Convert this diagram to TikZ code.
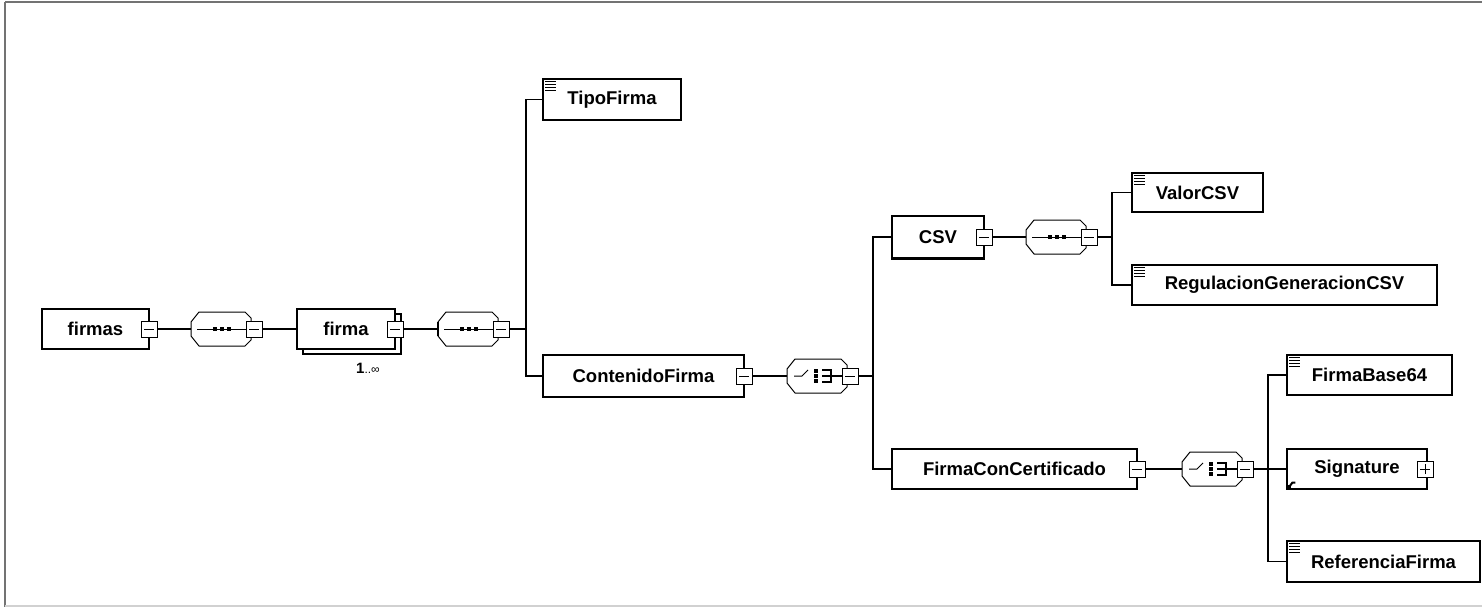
\documentclass[tikz,border=0pt]{standalone}
\usepackage{fontspec}
\setmainfont{Liberation Sans}
\begin{document}
\tikzset{
  elem/.style={draw=black, line width=1.2pt, fill=white, inner sep=0pt,
    font=\fontsize{18.5}{20}\selectfont\bfseries},
  btn/.style={draw=black, line width=1pt, fill=white, minimum size=16pt, inner sep=0pt},
  conn/.style={draw=black, line width=1.1pt},
  thickconn/.style={draw=black, line width=2pt},
  comp/.style={draw=black, line width=1pt, fill=white},
  framegray/.style={draw=black!55, line width=2pt},
  framelight/.style={draw=black!18, line width=1.5pt},
  mult/.style={inner sep=0pt, font=\fontsize{15}{16}\selectfont\bfseries},
}
\newcommand\minusbtn[3]{%
  \node[btn] (#1) at (#2,#3) {};
  \draw[line width=1pt] ([xshift=-5pt]#1.center) -- ([xshift=5pt]#1.center);}
\newcommand\plusbtn[3]{%
  \node[btn] (#1) at (#2,#3) {};
  \draw[line width=1pt] ([xshift=-5pt]#1.center) -- ([xshift=5pt]#1.center)
    ([yshift=-5pt]#1.center) -- ([yshift=5pt]#1.center);}
\newcommand\octo[2]{%
  \path[comp] (#1,{#2-7}) -- ({#1+8},{#2-17}) -- ({#1+54},{#2-17}) -- ({#1+60},{#2-11})
    -- ({#1+60},{#2+11}) -- ({#1+54},{#2+17}) -- ({#1+8},{#2+17}) -- (#1,{#2+7}) -- cycle;}
\newcommand\seqcomp[3]{% name, left x, mid y
  \octo{#2}{#3}
  \coordinate (#1) at (#2,#3);
  \draw[line width=1pt] ({#2+6},#3) -- ({#2+56},#3);
  \foreach \d in {22,29,36} \fill ({#2+\d},{#3-2}) rectangle ++(4,4);
  \minusbtn{#1-b}{#2+63}{#3}}
\newcommand\chocomp[3]{% name, left x, mid y
  \octo{#2}{#3}
  \coordinate (#1) at (#2,#3);
  \draw[line width=1pt] ({#2+7},#3) -- ({#2+15},#3) -- ({#2+21},{#3-6});
  \foreach \d in {-7,-2,3} \fill ({#2+27},{#3+\d}) rectangle ++(4,3.5);
  \draw[line width=1.1pt] ({#2+35},{#3-6}) -- ({#2+44},{#3-6}) -- ({#2+44},{#3+6}) -- ({#2+35},{#3+6})
    ({#2+35},#3) -- ({#2+56},#3);
  \minusbtn{#1-b}{#2+63}{#3}}
\newcommand\simpleicon[1]{%
  \foreach \k in {3,6,9,12}
    \draw[line width=0.9pt] ([xshift=3pt,yshift=-\k pt]#1.north west) -- ++(11,0);}
\begin{tikzpicture}[x=1pt,y=-1pt]
\useasboundingbox (0,0) rectangle (1482,607);
\fill[white] (0,0) rectangle (1482,607);
% frame
\draw[framegray] (5,2) -- (1482,2);
\draw[framegray] (5,2) -- (5,607);
\draw[framelight] (5,606) -- (1482,606);

% trunk coordinates
\coordinate (tA) at (526,329);
\coordinate (tB) at (873,376);
\coordinate (tC) at (1112,237);
\coordinate (tD) at (1268,469);

% elements
\node[elem, minimum width=107, minimum height=40] (firmas) at (95.5,329) {firmas};
\node[elem, minimum width=98, minimum height=40] (firma-sh) at (352,334) {};
\node[elem, minimum width=98, minimum height=40] (firma) at (346,329) {firma};
\node[mult] (firma-m) at (368,368) {1\fontsize{12}{13}\selectfont\mdseries..∞};
\node[elem, minimum width=138, minimum height=41] (TipoFirma) at (612,99.5) {TipoFirma};
\node[elem, minimum width=201, minimum height=42] (ContenidoFirma) at (643.5,376) {ContenidoFirma};
\node[elem, minimum width=92, minimum height=42] (CSV) at (938,237) {CSV};
\node[elem, minimum width=131, minimum height=39] (ValorCSV) at (1197.5,192.5) {ValorCSV};
\node[elem, minimum width=305, minimum height=40] (Regulacion) at (1284.5,285) {RegulacionGeneracionCSV};
\node[elem, minimum width=245, minimum height=40] (FCC) at (1014.5,469) {FirmaConCertificado};
\node[elem, minimum width=165, minimum height=40] (FirmaBase64) at (1369.5,375) {FirmaBase64};
\node[elem, minimum width=140, minimum height=40] (Signature) at (1357,469) {Signature};
\node[elem, minimum width=193, minimum height=41] (ReferenciaFirma) at (1383.5,561.5) {ReferenciaFirma};

\draw[line width=2.2pt] (CSV.south west) -- (CSV.south east);

\simpleicon{TipoFirma}
\simpleicon{ValorCSV}
\simpleicon{Regulacion}
\simpleicon{FirmaBase64}
\simpleicon{ReferenciaFirma}
\fill ([xshift=1pt,yshift=1pt]Signature.south west) rectangle ++(4,-4);
\draw[line width=2pt] ([xshift=3pt,yshift=3pt]Signature.south west) -- ++(3,-4) -- ++(3,0);

% buttons on elements
\minusbtn{firmas-b}{149}{329}
\minusbtn{firma-b}{395}{329}
\minusbtn{ContenidoFirma-b}{744}{376}
\minusbtn{CSV-b}{984}{237}
\minusbtn{FCC-b}{1137}{469}
\plusbtn{Signature-b}{1425}{469}

% compositors
\seqcomp{c1}{191}{329}
\seqcomp{c2}{438}{329}
\draw[line width=2.5pt] (438,322) -- (438,336);
\chocomp{ch1}{787}{376}
\seqcomp{c3}{1026}{237}
\chocomp{ch2}{1182}{469}

% connectors
\draw[conn] (firmas-b.east) -- (c1);
\draw[conn] (c1-b.east) -- (firma.west);
\draw[conn] (firma-b.east) -- (c2);
\draw[conn] (c2-b.east) -- (tA);
\draw[conn] (TipoFirma.west) -| (tA) |- (ContenidoFirma.west);
\draw[conn] (ContenidoFirma-b.east) -- (ch1);
\draw[conn] (ch1-b.east) -- (tB);
\draw[thickconn] (CSV.west) -| (tB);
\draw[conn] (tB) |- (FCC.west);
\draw[thickconn] (CSV-b.east) -- (c3);
\draw[conn] (c3-b.east) -- (tC);
\draw[conn] (ValorCSV.west) -| (tC) |- (Regulacion.west);
\draw[conn] (FCC-b.east) -- (ch2);
\draw[conn] (ch2-b.east) -- (tD);
\draw[conn] (FirmaBase64.west) -| (tD) |- (ReferenciaFirma.west);
\draw[conn] (tD) -- (Signature.west);
\end{tikzpicture}
\end{document}
